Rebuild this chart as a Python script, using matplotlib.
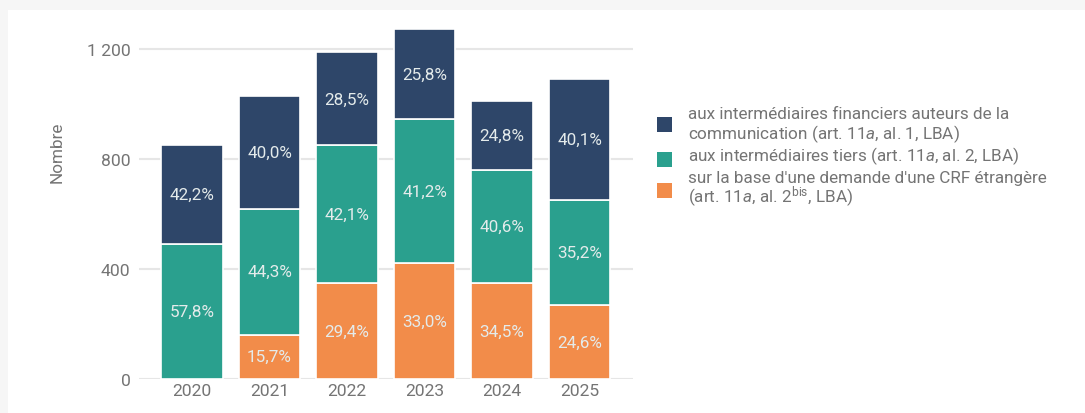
import matplotlib
matplotlib.use("Agg")
import matplotlib.pyplot as plt
from matplotlib.patches import Rectangle
import numpy as np

# Data: communications per year, total count and share of each category (%)
years = ["2020", "2021", "2022", "2023", "2024", "2025"]
totals = [851, 1030, 1188, 1273, 1011, 1091]
pct_crf = [0.0, 15.7, 29.4, 33.0, 34.5, 24.6]
pct_tiers = [57.8, 44.3, 42.1, 41.2, 40.6, 35.2]
pct_auteurs = [42.2, 40.0, 28.5, 25.8, 24.8, 40.1]

y_ticks = [0, 400, 800, 1200]
y_tick_labels = ["0", "400", "800", "1 200"]

label_auteurs = ["aux intermédiaires financiers auteurs de la",
                 "communication (art. 11$\\mathit{a}$, al. 1, LBA)"]
label_tiers = ["aux intermédiaires tiers (art. 11$\\mathit{a}$, al. 2, LBA)"]
label_crf = ["sur la base d'une demande d'une CRF étrangère",
             "(art. 11$\\mathit{a}$, al. 2$^{\\mathrm{bis}}$, LBA)"]

c_auteurs = "#2e4669"
c_tiers = "#2aa08e"
c_crf = "#f28c4a"
text_gray = "#747474"

plt.rcParams["font.family"] = ["Roboto", "DejaVu Sans"]
plt.rcParams["mathtext.fontset"] = "custom"
plt.rcParams["mathtext.rm"] = "Roboto"
plt.rcParams["mathtext.it"] = "Roboto:italic"

W, H = 1085, 414
fig = plt.figure(figsize=(W / 100, H / 100), dpi=100)
fig.patch.set_facecolor("#f6f6f6")
# white card behind everything
fig.patches.append(Rectangle((8 / W, 0), 1, 1 - 11 / H, transform=fig.transFigure,
                             facecolor="white", edgecolor="none", zorder=-10))

y_top = 1300
px_per_unit = 110 / 400
ax_bottom_px = 380
ax_top_px = ax_bottom_px - y_top * px_per_unit
ax_left_px, ax_right_px = 139, 633
ax = fig.add_axes([ax_left_px / W, (H - ax_bottom_px) / H,
                   (ax_right_px - ax_left_px) / W, (ax_bottom_px - ax_top_px) / H])
ax.set_facecolor("none")
ax.set_zorder(5)

x = np.arange(len(years))
tot = np.array(totals, dtype=float)
h_crf = tot * np.array(pct_crf) / 100
h_tiers = tot * np.array(pct_tiers) / 100
h_auteurs = tot * np.array(pct_auteurs) / 100

bw = 0.79
segments = [(h_crf, np.zeros_like(tot), pct_crf, c_crf),
            (h_tiers, h_crf, pct_tiers, c_tiers),
            (h_auteurs, h_crf + h_tiers, pct_auteurs, c_auteurs)]
for heights, bottoms, pcts, col in segments:
    ax.bar(x, heights, bottom=bottoms, width=bw, color=col,
           edgecolor="white", linewidth=1.2, zorder=3)
    for xi, hi, bi, p in zip(x, heights, bottoms, pcts):
        if p > 0:
            ax.text(xi, bi + hi / 2, f"{p:.1f}%".replace(".", ","),
                    ha="center", va="center", color="#e4ebeb",
                    fontsize=12.3, zorder=4)

ax.set_xlim(-0.684, 5.69)
ax.set_ylim(0, y_top)
ax.set_yticks(y_ticks)
ax.set_yticklabels(y_tick_labels)
ax.set_xticks(x)
ax.set_xticklabels(years)
ax.tick_params(axis="both", length=0, labelsize=12.6, labelcolor=text_gray)
ax.tick_params(axis="y", pad=6)
ax.tick_params(axis="x", pad=3)
ax.grid(axis="y", color="#e6e6e6", linewidth=1.5, zorder=0)
for s in ax.spines.values():
    s.set_visible(False)

fig.text(57 / W, 1 - 152 / H, "Nombre", rotation=90, ha="center", va="center",
         fontsize=12.3, color=text_gray)

# legend: swatch centre and text baselines in pixels from the top
legend_items = [(label_auteurs, c_auteurs, [119, 139.5], 125),
                (label_tiers, c_tiers, [161.5], 160),
                (label_crf, c_crf, [183.5, 203], 191.7)]
for lines, col, baselines, sy in legend_items:
    fig.patches.append(Rectangle((657 / W, 1 - (sy + 7.5) / H), 15 / W, 15 / H,
                                 transform=fig.transFigure, facecolor=col,
                                 edgecolor="none", zorder=2))
    for line, by in zip(lines, baselines):
        fig.text(688 / W, 1 - by / H, line, ha="left", va="baseline",
                 fontsize=12.3, color=text_gray)

fig.savefig("out.png", dpi=100, facecolor=fig.get_facecolor())
